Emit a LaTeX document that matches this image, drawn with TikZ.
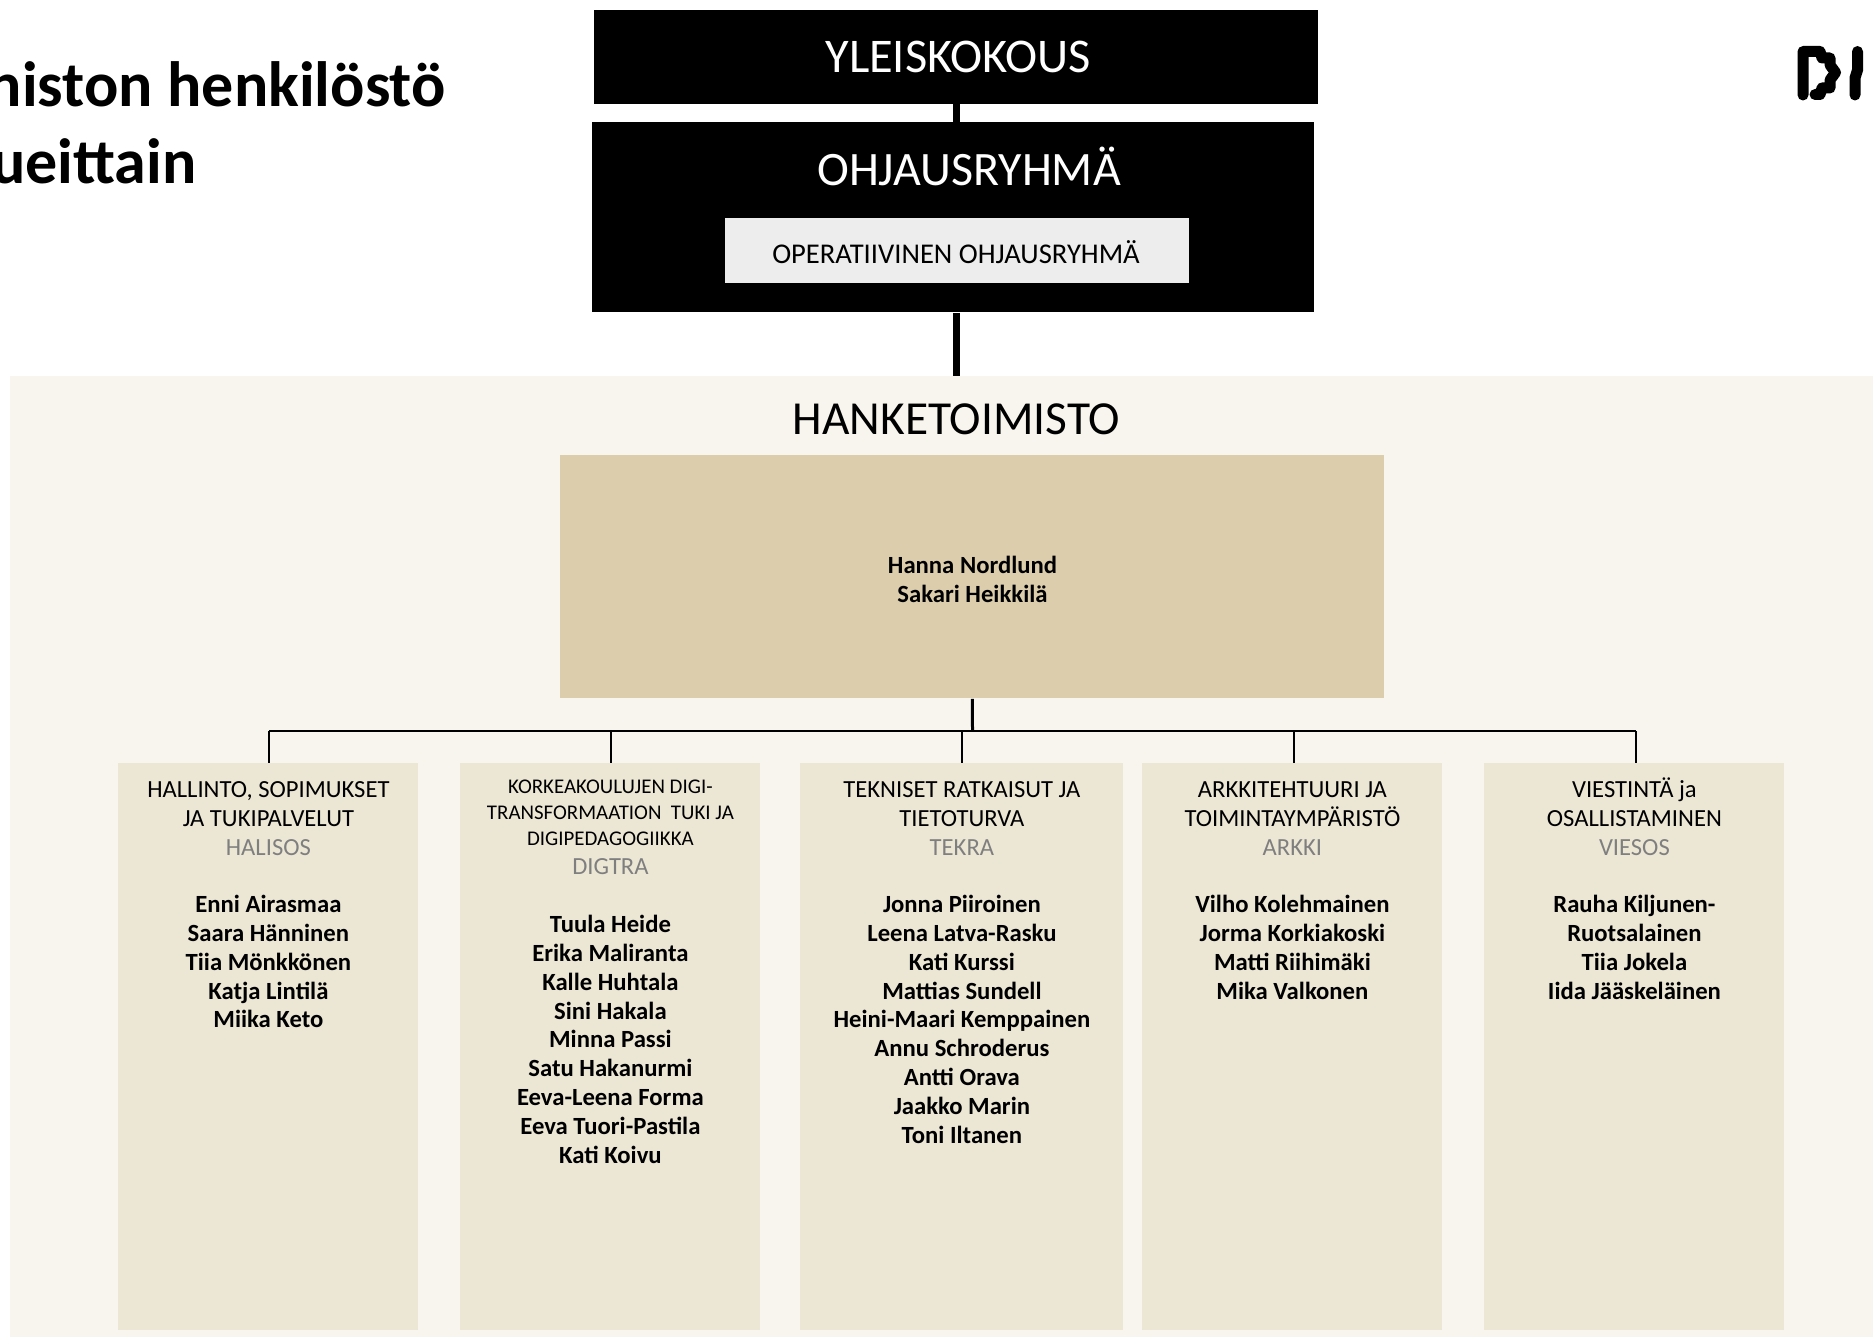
\documentclass[tikz,border=0pt]{standalone}
\usepackage{fontspec}
\setmainfont{Carlito}
\usetikzlibrary{positioning}

\definecolor{officebg}{HTML}{F8F5EE}
\definecolor{leadfill}{HTML}{DCCEAC}
\definecolor{unitfill}{HTML}{ECE7D5}
\definecolor{opfill}{HTML}{EDEDED}
\definecolor{abbrgray}{HTML}{7F7F7F}

\tikzset{
  blackbox/.style={fill=black, inner sep=0pt, anchor=north west},
  unitbox/.style={fill=unitfill, inner sep=0pt, anchor=north west, minimum width=150pt, minimum height=283.5pt},
  headtext/.style={inner sep=0pt, anchor=north, align=center, font=\fontsize{12.3}{14.5}\selectfont},
  smallhead/.style={inner sep=0pt, anchor=north, align=center, font=\fontsize{10.45}{13.15}\selectfont},
  abbrtext/.style={inner sep=0pt, anchor=north, text=abbrgray, font=\fontsize{12.3}{14.5}\selectfont},
  nametext/.style={inner sep=0pt, anchor=north, align=center, font=\fontsize{12.35}{14.4}\selectfont\bfseries},
  titletext/.style={inner sep=0pt, anchor=base east, font=\fontsize{32}{39}\selectfont\bfseries},
  bigline/.style={line width=3.5pt},
  thinline/.style={line width=1pt}
}

\begin{document}
\begin{tikzpicture}[x=0.5pt,y=-0.5pt]
\useasboundingbox (0,0) rectangle (1873,1337);

% title and logo
\node [titletext] (title1) at (446,106.5) {niston henkilöstö};
\node [titletext] (title2) at (197,184) {ueittain};
\draw [line width=5.5pt, line cap=round, line join=round]
  (1803,95) -- (1803,51.5) -- (1820,51.5) -- (1822,58) -- (1830,58) -- (1830,65) -- (1835.5,72.5) -- (1830,80) -- (1830,88) -- (1822,88) -- (1820,94.5) -- (1815,94.5);
\draw [line width=5.5pt, line cap=round] (1857.5,51.5) -- (1857.5,70) -- (1855,78) -- (1855,95);

% top boxes
\node [blackbox, minimum width=362pt, minimum height=47pt] (meeting) at (594,9.5) {};
\node [blackbox, minimum width=361pt, minimum height=95pt] (steering) at (592,122) {};
\node [fill=opfill, inner sep=0pt, anchor=north west, minimum width=231.75pt, minimum height=32.75pt] (operative) at (725,217.5) {};
\node [text=white, inner sep=0pt, font=\fontsize{24.2}{29}\selectfont] (meetinglabel) at (958,56.5) {YLEISKOKOUS};
\node [text=white, inner sep=0pt, font=\fontsize{24}{29}\selectfont] (steeringlabel) at (969,166) {OHJAUSRYHMÄ};
\node [inner sep=0pt, font=\fontsize{14.3}{17}\selectfont] (operativelabel) at (956,252) {OPERATIIVINEN OHJAUSRYHMÄ};

% office
\fill [officebg] (9.5,376) rectangle (1873,1337);
\node [inner sep=0pt, font=\fontsize{23.7}{28}\selectfont] (office) at (956.5,419.5) {HANKETOIMISTO};
\node [fill=leadfill, inner sep=0pt, anchor=north west, minimum width=412pt, minimum height=121.5pt] (lead) at (560,455) {};
\node [nametext] (leadnames) at (972.5,556) {Hanna Nordlund\\Sakari Heikkilä};

\draw [bigline] (meeting.south -| office) -- (steering.north -| office);
\draw [bigline] (steering.south -| office) -- (office.north |- 0,376);

% units
\node [unitbox] (halisos) at (118,763) {};
\node [unitbox] (digtra) at (460,763) {};
\node [unitbox, minimum width=161.5pt] (tekra) at (800,763) {};
\node [unitbox] (arkki) at (1142,763) {};
\node [unitbox] (viesos) at (1484,763) {};

\node [headtext] (halisoshead) at ([yshift=-9.2pt]halisos.north) {HALLINTO, SOPIMUKSET\\JA TUKIPALVELUT};
\node [abbrtext] (halisosabbr) at ([yshift=-38pt]halisos.north) {HALISOS};
\node [nametext] (halisosnames) at ([yshift=-66pt]halisos.north) {Enni Airasmaa\\Saara Hänninen\\Tiia Mönkkönen\\Katja Lintilä\\Miika Keto};

\node [smallhead] (digtrahead) at ([yshift=-8.2pt]digtra.north) {KORKEAKOULUJEN DIGI-\\TRANSFORMAATION\ \ TUKI JA\\DIGIPEDAGOGIIKKA};
\node [abbrtext] (digtraabbr) at ([yshift=-47.7pt]digtra.north) {DIGTRA};
\node [nametext] (digtranames) at ([yshift=-76pt]digtra.north) {Tuula Heide\\Erika Maliranta\\Kalle Huhtala\\Sini Hakala\\Minna Passi\\Satu Hakanurmi\\Eeva-Leena Forma\\Eeva Tuori-Pastila\\Kati Koivu};

\node [headtext] (tekrahead) at ([yshift=-9.2pt]tekra.north) {TEKNISET RATKAISUT JA\\TIETOTURVA};
\node [abbrtext] (tekraabbr) at ([yshift=-38pt]tekra.north) {TEKRA};
\node [nametext] (tekranames) at ([yshift=-66pt]tekra.north) {Jonna Piiroinen\\Leena Latva-Rasku\\Kati Kurssi\\Mattias Sundell\\Heini-Maari Kemppainen\\Annu Schroderus\\Antti Orava\\Jaakko Marin\\Toni Iltanen};

\node [headtext] (arkkihead) at ([yshift=-9.2pt]arkki.north) {ARKKITEHTUURI JA\\TOIMINTAYMPÄRISTÖ};
\node [abbrtext] (arkkiabbr) at ([yshift=-38pt]arkki.north) {ARKKI};
\node [nametext] (arkkinames) at ([yshift=-66pt]arkki.north) {Vilho Kolehmainen\\Jorma Korkiakoski\\Matti Riihimäki\\Mika Valkonen};

\node [headtext] (viesoshead) at ([yshift=-7.2pt]viesos.north) {VIESTINTÄ ja\\OSALLISTAMINEN};
\node [abbrtext] (viesosabbr) at ([yshift=-38pt]viesos.north) {VIESOS};
\node [nametext] (viesosnames) at ([yshift=-66pt]viesos.north) {Rauha Kiljunen-\\Ruotsalainen\\Tiia Jokela\\Iida Jääskeläinen};

% tree
\coordinate (bus) at (972.5,731);
\draw [line width=1.5pt] (lead.south) -- (bus);
\draw [thinline] ([xshift=0.5pt]bus -| halisos.north) -- ([xshift=0.75pt]bus -| viesos.north);
\draw [thinline] ([xshift=0.5pt]bus -| halisos.north) -- ([xshift=0.5pt]halisos.north);
\draw [thinline] ([xshift=0.5pt]bus -| digtra.north) -- ([xshift=0.5pt]digtra.north);
\draw [thinline] (bus -| tekra.north) -- (tekra.north);
\draw [thinline] ([xshift=0.75pt]bus -| arkki.north) -- ([xshift=0.75pt]arkki.north);
\draw [thinline] ([xshift=0.75pt]bus -| viesos.north) -- ([xshift=0.75pt]viesos.north);

\end{tikzpicture}
\end{document}
